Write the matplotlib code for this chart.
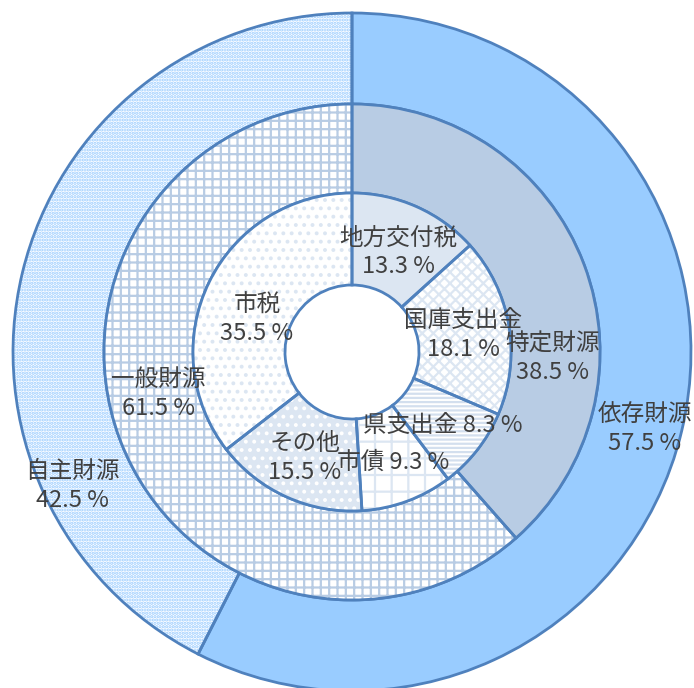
import matplotlib
matplotlib.use("Agg")
import matplotlib.pyplot as plt

plt.rcParams['font.family'] = ['Noto Sans CJK JP', 'DejaVu Sans']
plt.rcParams['hatch.linewidth'] = 1.6

# data
outer_labels = ['依存財源', '自主財源']
outer_vals = [57.5, 42.5]
middle_labels = ['特定財源', '一般財源']
middle_vals = [38.5, 61.5]
inner_labels = ['地方交付税', '国庫支出金', '県支出金', '市債', 'その他', '市税']
inner_vals = [13.3, 18.1, 8.3, 9.3, 15.5, 35.5]

# styles: (face, hatch, hatch colour)
outer_style = [('#99CCFF', None, '#99CCFF'), ('white', '.....', '#99CCFF')]
middle_style = [('#B8CCE4', None, '#B8CCE4'), ('white', '++', '#B8CCE4')]
inner_style = [('#DCE6F2', None, '#DCE6F2'),
               ('white', 'xxx', '#DCE6F2'),
               ('white', '----', '#D3DFEE'),
               ('white', '+', '#DCE6F2'),
               ('#DCE6F2', '..', 'white'),
               ('white', '..', '#DCE6F2')]

line_col = '#4F81BD'
text_col = '#404040'

# radii in pixels
r_out, r_mid, r_in, r_hole = 339, 248, 159, 67

# label block centres (pixels from the pie centre)
outer_pos = [(293, -77), (-280, -134)]
middle_pos = [(201, -6), (-194, -42)]
inner_pos = [(46, 100), (111, 17), (91, -73), (41, -110), (-47, -106), (-95, 33)]
one_line = ['県支出金', '市債']

fig = plt.figure(figsize=(6.94, 6.88), dpi=100)
ax = fig.add_axes([0, 0, 1, 1])


def ring(vals, styles, r, w):
    wedges, _ = ax.pie(vals, radius=r, startangle=90, counterclock=False,
                       wedgeprops=dict(width=w, linewidth=0))
    for wd, (fc, h, hc) in zip(wedges, styles):
        wd.set_facecolor(fc)
        wd.set_edgecolor(hc)
        wd.set_linewidth(0)
        if h:
            wd.set_hatch(h)
    ax.pie(vals, radius=r, startangle=90, counterclock=False,
           colors=['none'] * len(vals),
           wedgeprops=dict(width=w, fill=False, edgecolor=line_col, linewidth=2.0))


ring(outer_vals, outer_style, r_out, r_out - r_mid)
ring(middle_vals, middle_style, r_mid, r_mid - r_in)
ring(inner_vals, inner_style, r_in, r_in - r_hole)


def put_labels(labels, vals, pos):
    for lab, v, (x, y) in zip(labels, vals, pos):
        if lab in one_line:
            s = '%s %.1f %%' % (lab, v)
        else:
            s = '%s\n%.1f %%' % (lab, v)
        ax.text(x, y, s, ha='center', va='center', fontsize=17,
                color=text_col, linespacing=1.3)


put_labels(outer_labels, outer_vals, outer_pos)
put_labels(middle_labels, middle_vals, middle_pos)
put_labels(inner_labels, inner_vals, inner_pos)

ax.set_xlim(-352, 694 - 352)
ax.set_ylim(-(688 - 352), 352)
ax.set_aspect('auto')
ax.axis('off')

fig.savefig('out.png', dpi=100, facecolor='white')
